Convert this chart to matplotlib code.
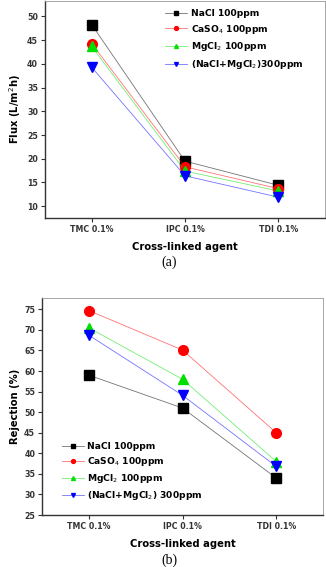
import numpy as np
import matplotlib
matplotlib.use('Agg')
import matplotlib.pyplot as plt
from matplotlib.colors import to_rgba

# data
agents = ['TMC 0.1%', 'IPC 0.1%', 'TDI 0.1%']
series_flux = ['NaCl 100ppm', 'CaSO$_4$ 100ppm', 'MgCl$_2$ 100ppm', '(NaCl+MgCl$_2$)300ppm']
series_rej = ['NaCl 100ppm', 'CaSO$_4$ 100ppm', 'MgCl$_2$ 100ppm', '(NaCl+MgCl$_2$) 300ppm']

flux_nacl = [48.3, 19.5, 14.4]
flux_caso4 = [44.3, 18.3, 13.7]
flux_mgcl2 = [43.7, 17.4, 13.2]
flux_mix = [39.3, 16.4, 11.9]

rej_nacl = [59.0, 51.0, 34.0]
rej_caso4 = [74.7, 65.1, 45.0]
rej_mgcl2 = [70.5, 58.0, 38.0]
rej_mix = [68.7, 54.1, 36.8]

colors = ['black', 'red', '#00e000', 'blue']
markers = ['s', 'o', '^', 'v']

plt.rcParams['font.family'] = 'DejaVu Sans'

fig = plt.figure(figsize=(3.26, 5.67), dpi=100)
ax1 = fig.add_axes([0.138, 0.6155, 0.859, 0.383])
ax2 = fig.add_axes([0.129, 0.0917, 0.862, 0.383])

x = np.arange(1, len(agents) + 1)


def style(ax):
    for s in ['left', 'bottom']:
        ax.spines[s].set_color('#333333')
        ax.spines[s].set_linewidth(1.0)
    for s in ['top', 'right']:
        ax.spines[s].set_color('#999999')
        ax.spines[s].set_linewidth(0.6)
    ax.tick_params(direction='out', length=3, width=0.8, labelsize=5.7,
                   colors='#333333', pad=2)
    ax.set_xticks(x)
    ax.set_xticklabels(agents, fontweight='bold')
    for lab in ax.get_yticklabels():
        lab.set_fontweight('bold')
    ax.set_xlim(0.5, 3.5)
    ax.set_xlabel('Cross-linked agent', fontsize=7.2, fontweight='bold', labelpad=6)


def draw(ax, data, labels):
    for ys, lab, c, m in zip(data, labels, colors, markers):
        ax.plot(x, ys, color=to_rgba(c, 0.55), lw=0.6, marker=m, ms=7, mec=c, mfc=c, label=lab)


# (a) flux
draw(ax1, [flux_nacl, flux_caso4, flux_mgcl2, flux_mix], series_flux)
ax1.set_ylim(7.5, 53.3)
ax1.set_yticks(np.arange(10, 51, 5))
style(ax1)
ax1.set_ylabel('Flux (L/m$^2$h)', fontsize=7.2, fontweight='bold', labelpad=3)
ax1.legend(loc='upper left', bbox_to_anchor=(0.4, 1.0), frameon=False,
           markerscale=0.4, handlelength=2.4, labelspacing=0.5, handletextpad=0.4,
           prop={'weight': 'bold', 'size': 6.6})

# (b) rejection
draw(ax2, [rej_nacl, rej_caso4, rej_mgcl2, rej_mix], series_rej)
ax2.set_ylim(25, 77.8)
ax2.set_yticks(np.arange(25, 76, 5))
style(ax2)
ax2.set_ylabel('Rejection (%)', fontsize=7.2, fontweight='bold', labelpad=3)
ax2.legend(loc='lower left', bbox_to_anchor=(0.04, 0.02), frameon=False,
           markerscale=0.4, handlelength=2.4, labelspacing=0.45, handletextpad=0.4,
           prop={'weight': 'bold', 'size': 6.6})

fig.text(0.52, 1 - 262 / 567, '(a)', ha='center', va='center', fontsize=10, family='Liberation Serif')
fig.text(0.52, 1 - 560 / 567, '(b)', ha='center', va='center', fontsize=10, family='Liberation Serif')

fig.savefig('out.png', dpi=100)
